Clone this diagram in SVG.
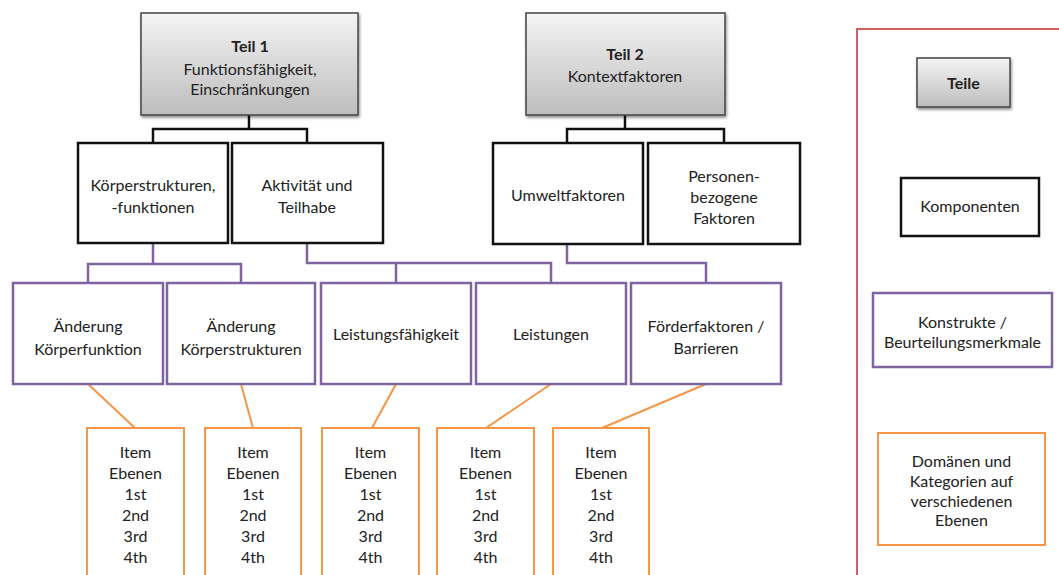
<svg xmlns="http://www.w3.org/2000/svg" width="1059" height="575" viewBox="0 0 1059 575">
  <defs>
    <linearGradient id="grayFill" x1="0" y1="0" x2="0" y2="1">
      <stop offset="0" stop-color="#f4f4f4"/>
      <stop offset="1" stop-color="#bdbdbd"/>
    </linearGradient>
    <filter id="shadow" x="-10%" y="-10%" width="125%" height="130%">
      <feGaussianBlur in="SourceAlpha" stdDeviation="1.5"/>
      <feOffset dx="1" dy="2" result="b"/>
      <feComponentTransfer><feFuncA type="linear" slope="0.45"/></feComponentTransfer>
      <feMerge><feMergeNode/><feMergeNode in="SourceGraphic"/></feMerge>
    </filter>
  </defs>
  <style>
    text { font-family: Lato, "Open Sans", "Liberation Sans", sans-serif; font-size: 16px; fill: #222; text-anchor: middle; }
    .b { font-weight: bold; }
    .part { fill: url(#grayFill); stroke: #444; stroke-width: 1.5; filter: url(#shadow); }
    .comp { fill: #fff; stroke: #111; stroke-width: 2.5; }
    .cons { fill: #fff; stroke: #8064a2; stroke-width: 2.5; }
    .dom { fill: #fff; stroke: #f79646; stroke-width: 2; }
    .lk { fill: none; stroke: #111; stroke-width: 2.5; }
    .lp { fill: none; stroke: #8064a2; stroke-width: 2.5; }
    .lo { fill: none; stroke: #f79646; stroke-width: 2; }
  </style>
  <rect width="1059" height="575" fill="#fff"/>

  <!-- connectors -->
  <g id="connectors">
    <path class="lk" d="M249 115 V129 M153 143 V129 H307 V143"/>
    <path class="lk" d="M625 115 V129 M567 143 V129 H724 V143"/>
    <path class="lp" d="M153 243 V264 M88 283 V264 H241 V283"/>
    <path class="lp" d="M307 243 V263 H551 V283 M396 263 V283"/>
    <path class="lp" d="M567 244 V263 H706 V283"/>
    <path class="lo" d="M88 384 L135 428"/>
    <path class="lo" d="M241 384 L253 428"/>
    <path class="lo" d="M396 384 L372 428"/>
    <path class="lo" d="M551 384 L486 428"/>
    <path class="lo" d="M706 384 L602 428"/>
  </g>

  <!-- parts -->
  <g id="teil1">
    <rect class="part" x="141" y="13" width="217" height="102"/>
    <text class="b" x="250" y="52">Teil 1</text>
    <text x="250" y="75">Funktionsfähigkeit,</text>
    <text x="250" y="95">Einschränkungen</text>
  </g>
  <g id="teil2">
    <rect class="part" x="526" y="13" width="199" height="102"/>
    <text class="b" x="625" y="60">Teil 2</text>
    <text x="625" y="82">Kontextfaktoren</text>
  </g>

  <!-- components -->
  <g id="koerper">
    <rect class="comp" x="78" y="143" width="150" height="100"/>
    <text x="153" y="191">Körperstrukturen,</text>
    <text x="153" y="213">-funktionen</text>
  </g>
  <g id="aktivitaet">
    <rect class="comp" x="232" y="143" width="151" height="100"/>
    <text x="307" y="191">Aktivität und</text>
    <text x="307" y="213">Teilhabe</text>
  </g>
  <g id="umwelt">
    <rect class="comp" x="493" y="143" width="150" height="101"/>
    <text x="568" y="201">Umweltfaktoren</text>
  </g>
  <g id="personen">
    <rect class="comp" x="648" y="143" width="152" height="101"/>
    <text x="724" y="182">Personen-</text>
    <text x="724" y="203">bezogene</text>
    <text x="724" y="224">Faktoren</text>
  </g>

  <!-- constructs -->
  <g id="aend-funktion">
    <rect class="cons" x="13" y="283" width="150" height="101"/>
    <text x="88" y="332">Änderung</text>
    <text x="88" y="355">Körperfunktion</text>
  </g>
  <g id="aend-struktur">
    <rect class="cons" x="167" y="283" width="148" height="101"/>
    <text x="241" y="332">Änderung</text>
    <text x="241" y="355">Körperstrukturen</text>
  </g>
  <g id="leistungsfaehigkeit">
    <rect class="cons" x="321" y="283" width="150" height="101"/>
    <text x="396" y="340">Leistungsfähigkeit</text>
  </g>
  <g id="leistungen">
    <rect class="cons" x="476" y="283" width="150" height="101"/>
    <text x="551" y="340">Leistungen</text>
  </g>
  <g id="foerderfaktoren">
    <rect class="cons" x="631" y="283" width="150" height="101"/>
    <text x="706" y="332">Förderfaktoren /</text>
    <text x="706" y="354">Barrieren</text>
  </g>

  <!-- domain item boxes -->
  <g id="items1">
    <rect class="dom" x="87" y="428" width="97" height="170"/>
    <text x="135.5" y="458">Item</text><text x="135.5" y="479">Ebenen</text>
    <text x="135.5" y="500">1st</text><text x="135.5" y="521">2nd</text>
    <text x="135.5" y="542">3rd</text><text x="135.5" y="563">4th</text>
  </g>
  <g id="items2">
    <rect class="dom" x="205" y="428" width="96" height="170"/>
    <text x="253" y="458">Item</text><text x="253" y="479">Ebenen</text>
    <text x="253" y="500">1st</text><text x="253" y="521">2nd</text>
    <text x="253" y="542">3rd</text><text x="253" y="563">4th</text>
  </g>
  <g id="items3">
    <rect class="dom" x="322" y="428" width="97" height="170"/>
    <text x="370.5" y="458">Item</text><text x="370.5" y="479">Ebenen</text>
    <text x="370.5" y="500">1st</text><text x="370.5" y="521">2nd</text>
    <text x="370.5" y="542">3rd</text><text x="370.5" y="563">4th</text>
  </g>
  <g id="items4">
    <rect class="dom" x="437" y="428" width="97" height="170"/>
    <text x="485.5" y="458">Item</text><text x="485.5" y="479">Ebenen</text>
    <text x="485.5" y="500">1st</text><text x="485.5" y="521">2nd</text>
    <text x="485.5" y="542">3rd</text><text x="485.5" y="563">4th</text>
  </g>
  <g id="items5">
    <rect class="dom" x="553" y="428" width="96" height="170"/>
    <text x="601" y="458">Item</text><text x="601" y="479">Ebenen</text>
    <text x="601" y="500">1st</text><text x="601" y="521">2nd</text>
    <text x="601" y="542">3rd</text><text x="601" y="563">4th</text>
  </g>

  <!-- legend -->
  <g id="legend">
    <rect x="857" y="29" width="220" height="570" fill="none" stroke="#d06060" stroke-width="2"/>
    <rect class="part" x="917" y="58" width="93" height="49"/>
    <text class="b" x="963.5" y="89">Teile</text>
    <rect class="comp" x="901" y="178" width="138" height="58"/>
    <text x="970" y="212">Komponenten</text>
    <rect class="cons" x="873" y="293" width="179" height="74"/>
    <text x="962.5" y="328">Konstrukte /</text>
    <text x="962.5" y="348">Beurteilungsmerkmale</text>
    <rect class="dom" x="878" y="433" width="167" height="112"/>
    <text x="961.5" y="467">Domänen und</text>
    <text x="961.5" y="487">Kategorien auf</text>
    <text x="961.5" y="507">verschiedenen</text>
    <text x="961.5" y="526">Ebenen</text>
  </g>
</svg>
